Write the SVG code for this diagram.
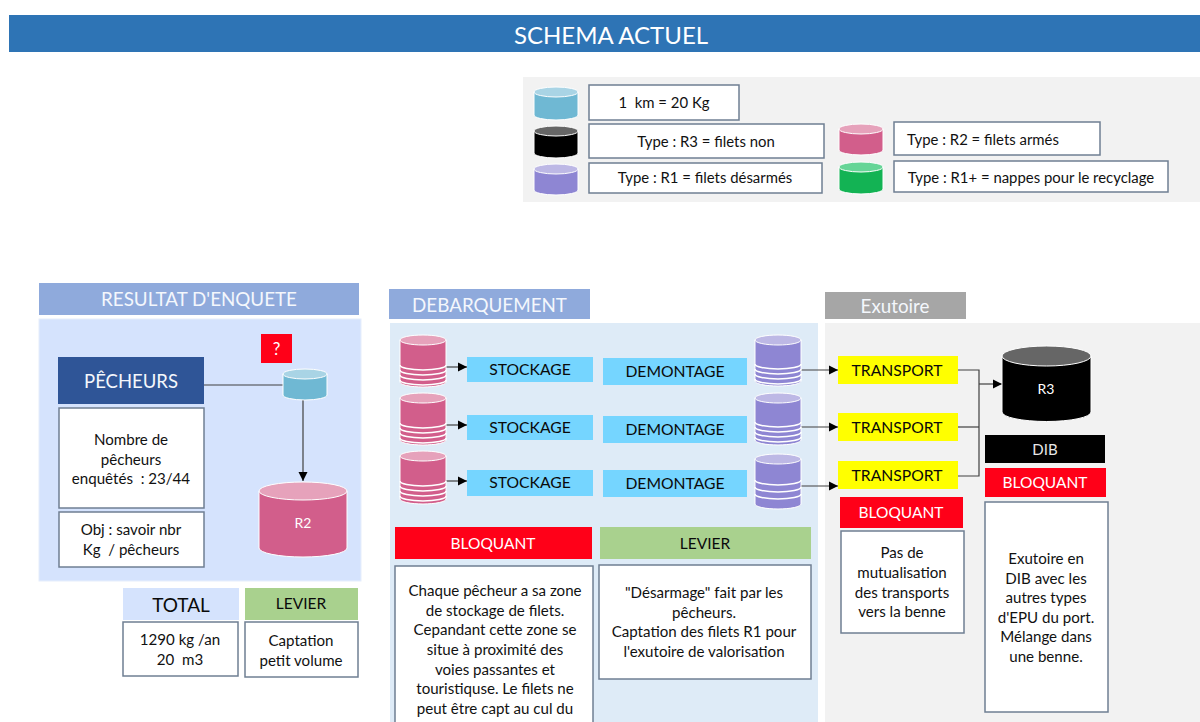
<svg xmlns="http://www.w3.org/2000/svg" width="1200" height="722" viewBox="0 0 1200 722">
<style>
text{font-family:"Lato","Noto Sans","Liberation Sans",sans-serif;text-anchor:middle;white-space:pre}
.b{fill:#fff;stroke:#6f7f93;stroke-width:1.5}
.t{font-size:15.1px;fill:#111}
.l{font-size:14.9px;fill:#111}
.w{fill:#fff}
.h{font-size:18.8px;fill:#f4f7fc}
.s{font-size:15.7px;fill:#0a0a0a}
.red{fill:#ff0018}
.grn{fill:#a9d18e}
.blu{fill:#75d5ff}
.yel{fill:#ffff00}
.cy{stroke:#fff;stroke-width:1}
.tl{fill:none;stroke:#fff;stroke-width:1.5}
.c{fill:none;stroke:#404040;stroke-width:1.2}
.a{marker-end:url(#ah)}
</style>
<defs>
<marker id="ah" markerUnits="userSpaceOnUse" markerWidth="10" markerHeight="10" refX="9" refY="5" orient="auto"><path d="M0,0.5L9,5L0,9.5Z" fill="#000"/></marker>
</defs>
<rect id="title-bar" x="9" y="15" width="1191" height="37" fill="#2e74b5"/>
<text x="611" y="44" font-size="24" class="w">SCHEMA ACTUEL</text>

<g id="legend">
<rect x="523" y="77" width="677" height="125" fill="#f2f2f2"/>
<g id="legend-km">
<path class="cy" fill="#6fb8d3" d="M534,92v23a22,5 0 0 0 44,0v-23z"/><ellipse class="cy" cx="556" cy="92" rx="22" ry="5" fill="#a9d4e5"/>
<rect class="b" x="589" y="85" width="150" height="35"/><text class="l" x="664" y="108">1  km = 20 Kg</text></g>
<g id="legend-r3">
<path class="cy" fill="#000" d="M534,131v22a22,5 0 0 0 44,0v-22z"/><ellipse class="cy" cx="556" cy="131" rx="22" ry="5" fill="#666"/>
<rect class="b" x="589" y="124" width="235" height="34"/><text class="l" x="706" y="147">Type : R3 = filets non</text></g>
<g id="legend-r1">
<path class="cy" fill="#8e86d3" d="M534,169v21a22,5 0 0 0 44,0v-21z"/><ellipse class="cy" cx="556" cy="169" rx="22" ry="5" fill="#bdb8e5"/>
<rect class="b" x="589" y="163" width="233" height="30"/><text class="l" x="705" y="183">Type : R1 = filets désarmés</text></g>
<g id="legend-r2">
<path class="cy" fill="#d25e8b" d="M839,129v21a22,5 0 0 0 44,0v-21z"/><ellipse class="cy" cx="861" cy="129" rx="22" ry="5" fill="#e6a2bb"/>
<rect class="b" x="894" y="122" width="206" height="33"/><text class="l" x="983" y="145">Type : R2 = filets armés</text></g>
<g id="legend-r1plus">
<path class="cy" fill="#13b354" d="M839,167v22a22,5 0 0 0 44,0v-22z"/><ellipse class="cy" cx="861" cy="167" rx="22" ry="5" fill="#66d597"/>
<rect class="b" x="894" y="161" width="274" height="31"/><text class="l" x="1031" y="183">Type : R1+ = nappes pour le recyclage</text></g>
</g>

<rect x="39" y="319" width="322" height="262" fill="#d5e3fd" stroke="#e6eefc"/>
<rect x="390" y="323" width="428" height="399" fill="#deebf7"/>
<rect x="825" y="323" width="375" height="399" fill="#f2f2f2"/>

<g id="h-enquete"><rect x="39" y="283" width="320" height="32" fill="#8faadc"/><text class="h" x="199" y="306">RESULTAT D'ENQUETE</text></g>
<g id="h-debarquement"><rect x="389" y="289" width="201" height="30" fill="#8faadc"/><text class="h" x="489.500" y="312">DEBARQUEMENT</text></g>
<g id="h-exutoire"><rect x="825" y="292" width="141" height="27" fill="#a6a6a6"/><text class="h" x="895" y="313">Exutoire</text></g>

<g id="connectors">
<path class="c" d="M204,385H283"/>
<path class="c a" d="M303,400V481"/>
<path class="c a" d="M446,367H467"/><path class="c a" d="M446,425H467"/><path class="c a" d="M446,481H467"/>
<path class="c a" d="M801,370H838"/><path class="c a" d="M801,427H838"/><path class="c a" d="M801,486H838"/>
<path class="c" d="M958,370H979V476H958"/><path class="c" d="M958,427H979"/>
<path class="c a" d="M979,384H1002"/>
</g>

<g id="q"><rect class="red" x="261" y="334" width="31" height="29"/><text class="w" x="276.500" y="355" font-size="17">?</text></g>
<g id="pecheurs"><rect x="58" y="357" width="146" height="47" fill="#2f5597"/><text x="131" y="388" font-size="18.500" fill="#f4f7fc">PÊCHEURS</text></g>
<g id="n-nombre"><rect class="b" x="59" y="408" width="145" height="100"/><text class="t"><tspan x="131" y="445">Nombre de</tspan><tspan x="131" y="465">pêcheurs</tspan><tspan x="131" y="484">enquêtés  : 23/44</tspan></text></g>
<g id="n-obj"><rect class="b" x="59" y="512" width="145" height="55"/><text class="t"><tspan x="131" y="535">Obj : savoir nbr</tspan><tspan x="131" y="555">Kg  / pêcheurs</tspan></text></g>
<g id="cyl-small"><path class="cy" fill="#6fb8d3" d="M283,374v21a22,5 0 0 0 44,0v-21z"/><ellipse class="cy" cx="305" cy="374" rx="22" ry="5" fill="#a9d4e5"/></g>
<g id="cyl-r2"><path class="cy" fill="#d25e8b" d="M259,491v57a44,9 0 0 0 88,0v-57z"/><ellipse class="cy" cx="303" cy="491" rx="44" ry="9" fill="#e6a2bb"/><text class="w" x="303" y="528" font-size="14">R2</text></g>
<g id="total"><rect x="123" y="588" width="116" height="32" fill="#d5e3fd"/><text x="181" y="612" font-size="19" fill="#0a0a0a">TOTAL</text></g>
<g id="levier1"><rect class="grn" x="245" y="588" width="113" height="32"/><text x="301" y="609" font-size="15.500" fill="#0a0a0a">LEVIER</text></g>
<g id="n-total"><rect class="b" x="123" y="622" width="115" height="54"/><text class="t"><tspan x="180" y="645">1290 kg /an</tspan><tspan x="180" y="665">20  m3</tspan></text></g>
<g id="n-captation"><rect class="b" x="245" y="622" width="113" height="55"/><text class="t"><tspan x="301" y="646">Captation</tspan><tspan x="301" y="666">petit volume</tspan></text></g>

<g id="stack-p1"><path class="cy" fill="#d25e8b" d="M400,340v42a23,5 0 0 0 46,0v-42z"/><ellipse class="cy" cx="423" cy="340" rx="23" ry="5" fill="#e6a2bb"/><path class="tl" d="M400,365a23,5 0 0 0 46,0M400,370a23,5 0 0 0 46,0M400,375a23,5 0 0 0 46,0M400,380a23,5 0 0 0 46,0"/></g>
<g id="stack-p2"><path class="cy" fill="#d25e8b" d="M400,398v42a23,5 0 0 0 46,0v-42z"/><ellipse class="cy" cx="423" cy="398" rx="23" ry="5" fill="#e6a2bb"/><path class="tl" d="M400,423a23,5 0 0 0 46,0M400,428a23,5 0 0 0 46,0M400,433a23,5 0 0 0 46,0M400,438a23,5 0 0 0 46,0"/></g>
<g id="stack-p3"><path class="cy" fill="#d25e8b" d="M400,456v43a23,5 0 0 0 46,0v-43z"/><ellipse class="cy" cx="423" cy="456" rx="23" ry="5" fill="#e6a2bb"/><path class="tl" d="M400,481a23,5 0 0 0 46,0M400,486a23,5 0 0 0 46,0M400,491a23,5 0 0 0 46,0M400,496a23,5 0 0 0 46,0"/></g>
<g id="stack-v1"><path class="cy" fill="#8e86d3" d="M755,340v41a23,5 0 0 0 46,0v-41z"/><ellipse class="cy" cx="778" cy="340" rx="23" ry="5" fill="#bdb8e5"/><path class="tl" d="M755,364a23,5 0 0 0 46,0M755,369a23,5 0 0 0 46,0M755,374a23,5 0 0 0 46,0M755,379a23,5 0 0 0 46,0"/></g>
<g id="stack-v2"><path class="cy" fill="#8e86d3" d="M755,398v42a23,5 0 0 0 46,0v-42z"/><ellipse class="cy" cx="778" cy="398" rx="23" ry="5" fill="#bdb8e5"/><path class="tl" d="M755,422a23,5 0 0 0 46,0M755,427a23,5 0 0 0 46,0M755,432a23,5 0 0 0 46,0M755,437a23,5 0 0 0 46,0"/></g>
<g id="stack-v3"><path class="cy" fill="#8e86d3" d="M755,459v45a23,5 0 0 0 46,0v-45z"/><ellipse class="cy" cx="778" cy="459" rx="23" ry="5" fill="#bdb8e5"/><path class="tl" d="M755,480a23,5 0 0 0 46,0M755,487a23,5 0 0 0 46,0M755,494a23,5 0 0 0 46,0"/></g>

<g id="st1"><rect class="blu" x="467" y="357" width="126" height="25"/><text class="s" x="530" y="375">STOCKAGE</text></g>
<g id="st2"><rect class="blu" x="467" y="415" width="126" height="25"/><text class="s" x="530" y="433">STOCKAGE</text></g>
<g id="st3"><rect class="blu" x="467" y="470" width="126" height="26"/><text class="s" x="530" y="488">STOCKAGE</text></g>
<g id="dm1"><rect class="blu" x="603" y="358" width="144" height="27"/><text class="s" x="675" y="377">DEMONTAGE</text></g>
<g id="dm2"><rect class="blu" x="603" y="416" width="144" height="27"/><text class="s" x="675" y="435">DEMONTAGE</text></g>
<g id="dm3"><rect class="blu" x="603" y="470" width="144" height="27"/><text class="s" x="675" y="489">DEMONTAGE</text></g>
<g id="tr1"><rect class="yel" x="838" y="356" width="120" height="28"/><text class="s" x="897" y="376">TRANSPORT</text></g>
<g id="tr2"><rect class="yel" x="838" y="413" width="120" height="28"/><text class="s" x="897" y="433">TRANSPORT</text></g>
<g id="tr3"><rect class="yel" x="838" y="461" width="120" height="28"/><text class="s" x="897" y="481">TRANSPORT</text></g>

<g id="cyl-r3"><path class="cy" fill="#000" d="M1002,356v56a44.500,9.500 0 0 0 89,0v-56z"/><ellipse class="cy" cx="1046.500" cy="356" rx="44.500" ry="10" fill="#666"/><text class="w" x="1046" y="394" font-size="14">R3</text></g>
<g id="dib"><rect x="985" y="435" width="120" height="28" fill="#000"/><text x="1045" y="455" font-size="15" fill="#e8e8e8">DIB</text></g>
<g id="bl-dib"><rect class="red" x="985" y="468" width="121" height="29"/><text class="w" x="1045" y="488" font-size="15.500">BLOQUANT</text></g>
<g id="n-dib"><rect class="b" x="985" y="502" width="123" height="210"/><text class="t"><tspan x="1046" y="564">Exutoire en</tspan><tspan x="1046" y="584">DIB avec les</tspan><tspan x="1046" y="603">autres types</tspan><tspan x="1046" y="623">d'EPU du port.</tspan><tspan x="1046" y="642">Mélange dans</tspan><tspan x="1046" y="662">une benne.</tspan></text></g>
<g id="bl-tr"><rect class="red" x="840" y="497" width="123" height="31"/><text class="w" x="901" y="518" font-size="15.500">BLOQUANT</text></g>
<g id="n-tr"><rect class="b" x="841" y="531" width="123" height="102"/><text class="t"><tspan x="902" y="558">Pas de</tspan><tspan x="902" y="578">mutualisation</tspan><tspan x="902" y="598">des transports</tspan><tspan x="902" y="617">vers la benne</tspan></text></g>
<g id="bl-st"><rect class="red" x="395" y="527" width="197" height="32"/><text class="w" x="493" y="549" font-size="15.500">BLOQUANT</text></g>
<g id="lv-st"><rect class="grn" x="600" y="527" width="211" height="32"/><text x="705" y="549" font-size="15.500" fill="#0a0a0a">LEVIER</text></g>
<g id="n-st"><rect class="b" x="395" y="566" width="198" height="170"/><text class="t"><tspan x="495" y="596">Chaque pêcheur a sa zone</tspan><tspan x="495" y="616">de stockage de filets.</tspan><tspan x="495" y="635">Cepandant cette zone se</tspan><tspan x="495" y="655">situe à proximité des</tspan><tspan x="495" y="675">voies passantes et</tspan><tspan x="495" y="694">touristiquse. Le filets ne</tspan><tspan x="495" y="714">peut être capt au cul du</tspan></text></g>
<g id="n-lv"><rect class="b" x="599" y="565" width="212" height="114"/><text class="t"><tspan x="704" y="598">"Désarmage" fait par les</tspan><tspan x="704" y="618">pêcheurs.</tspan><tspan x="704" y="637">Captation des filets R1 pour</tspan><tspan x="704" y="657">l'exutoire de valorisation</tspan></text></g>
</svg>
